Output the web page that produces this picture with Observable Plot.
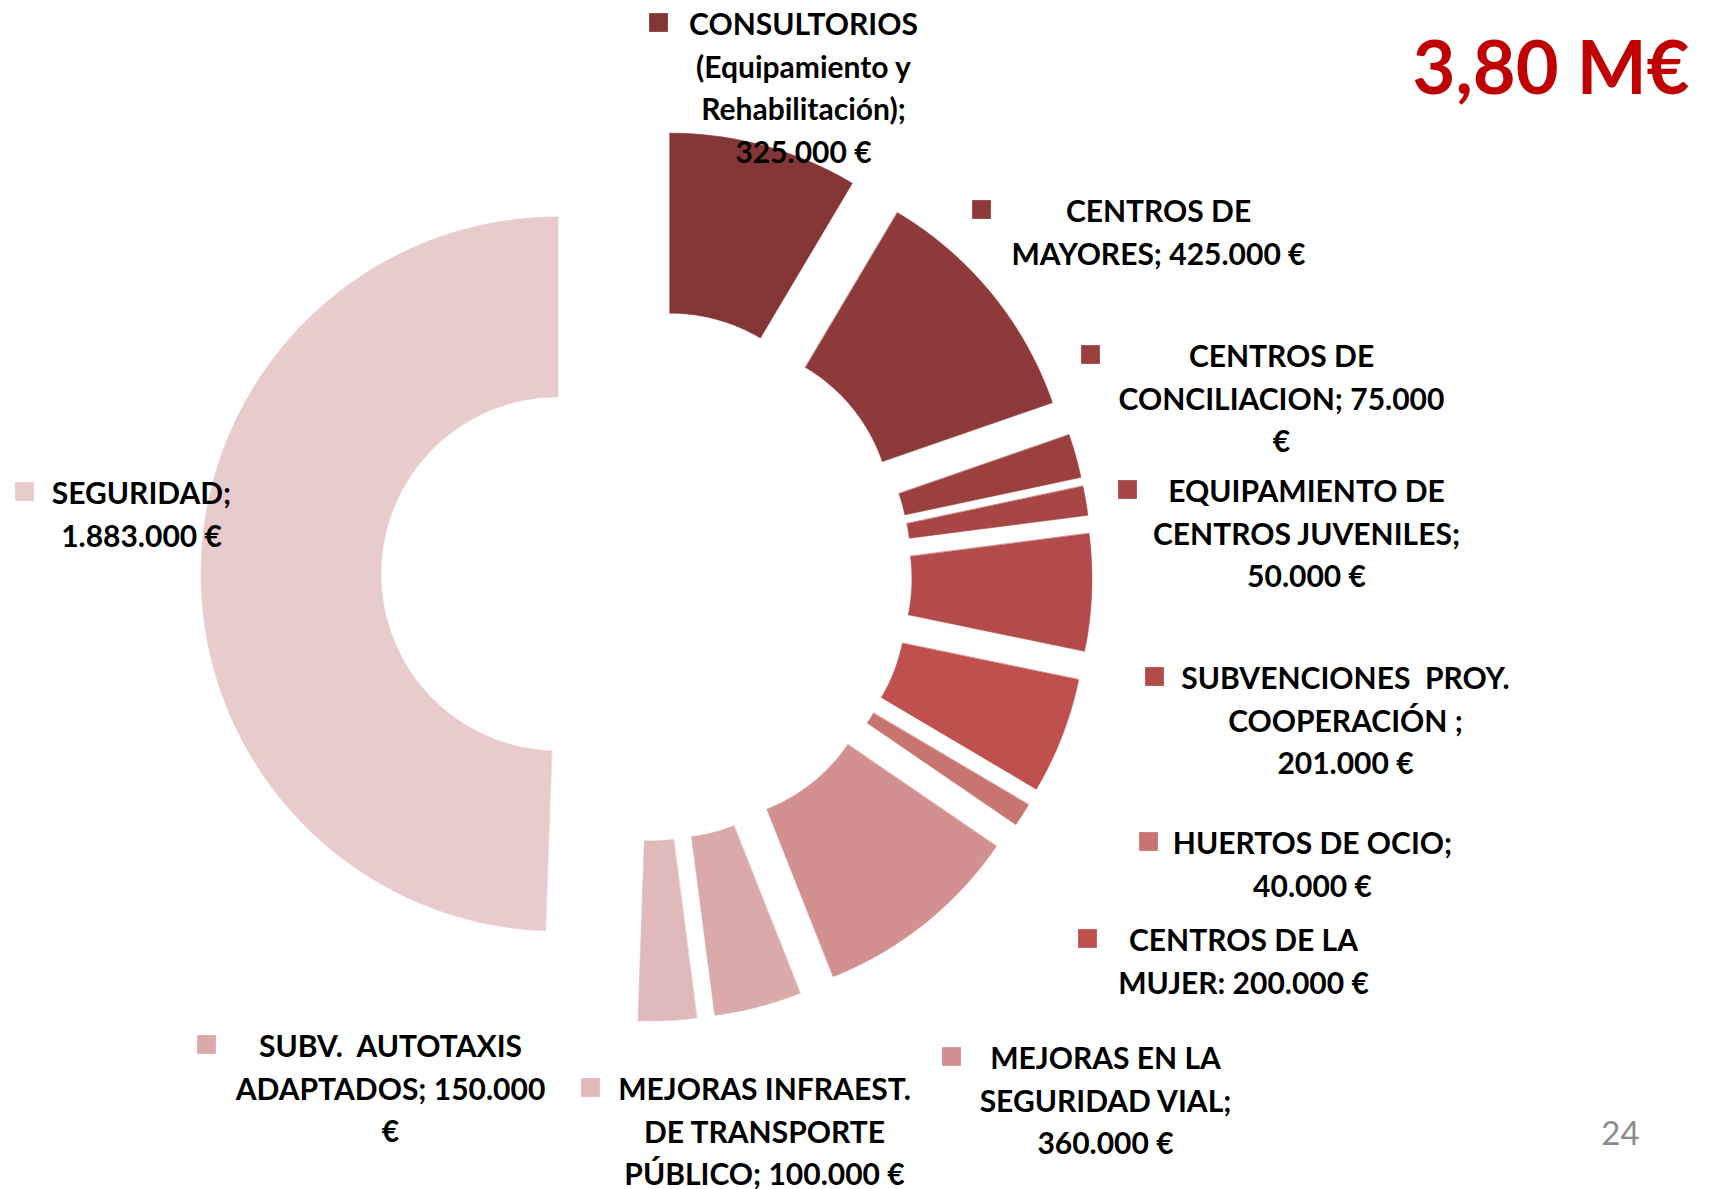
<!DOCTYPE html>
<html><head><meta charset="utf-8">
<script src="https://cdn.jsdelivr.net/npm/d3@7"></script>
<script src="https://cdn.jsdelivr.net/npm/@observablehq/plot@0.6"></script>
<style>
html,body{margin:0;padding:0;background:#fff;}
#chart svg{display:block;white-space:pre;}
</style></head><body><div id="chart"></div>
<script>
// ---- data ----
const categories = [
  "CONSULTORIOS (Equipamiento y Rehabilitación)", "CENTROS DE MAYORES", "CENTROS DE CONCILIACION",
  "EQUIPAMIENTO DE CENTROS JUVENILES", "SUBVENCIONES PROY. COOPERACIÓN", "CENTROS DE LA MUJER",
  "HUERTOS DE OCIO", "MEJORAS EN LA SEGURIDAD VIAL", "SUBV. AUTOTAXIS ADAPTADOS",
  "MEJORAS INFRAEST. DE TRANSPORTE PÚBLICO", "SEGURIDAD"
];
const values = [325000, 425000, 75000, 50000, 201000, 200000, 40000, 360000, 150000, 100000, 1883000];
const labelLines = [
  ["CONSULTORIOS", "(Equipamiento y", "Rehabilitación);", "325.000 €"],
  ["CENTROS DE", "MAYORES; 425.000 €"],
  ["CENTROS DE", "CONCILIACION; 75.000", "€"],
  ["EQUIPAMIENTO DE", "CENTROS JUVENILES;", "50.000 €"],
  ["SUBVENCIONES  PROY.", "COOPERACIÓN ;", "201.000 €"],
  ["CENTROS DE LA", "MUJER: 200.000 €"],
  ["HUERTOS DE OCIO;", "40.000 €"],
  ["MEJORAS EN LA", "SEGURIDAD VIAL;", "360.000 €"],
  ["SUBV.  AUTOTAXIS", "ADAPTADOS; 150.000", "€"],
  ["MEJORAS INFRAEST.", "DE TRANSPORTE", "PÚBLICO; 100.000 €"],
  ["SEGURIDAD;", "1.883.000 €"]
];
const totalText = "3,80 M€";
const pageText = "24";

// ---- styles / layout ----
const colors = ["#843535", "#8f3a3a", "#9b3f3f", "#a84646", "#b34b4a", "#c0504d",
                "#c87471", "#d29190", "#daa9a9", "#e0baba", "#e8cbcc"];
const W = 1714, H = 1189;
const CX = 646, CY = 575, R_OUT = 357, R_IN = 177, EXPLODE = 88.5;
const FONT = 30, LH = 1.42;
// [text centre x, first line centre y, marker centre x]
const labelLayout = [
  [803, 21, 658], [1158, 208, 981], [1281, 353, 1090], [1306, 488, 1127],
  [1345, 675, 1154], [1243, 937, 1087], [1312, 840, 1148], [1105, 1055, 951],
  [390, 1043, 206], [764, 1086, 590], [141, 490, 24]
];

// ---- build ----
const arcs = d3.pie().sort(null).value(d => d)(values);
const slices = arcs.map((a, i) => {
  const mid = (a.startAngle + a.endAngle) / 2;
  const ox = CX + EXPLODE * Math.sin(mid), oy = CY - EXPLODE * Math.cos(mid);
  const n = Math.max(6, Math.ceil((a.endAngle - a.startAngle) / 0.01));
  const pts = [];
  for (let k = 0; k <= n; k++) {
    const t = a.startAngle + (a.endAngle - a.startAngle) * k / n;
    pts.push({x: ox + R_OUT * Math.sin(t), y: oy - R_OUT * Math.cos(t)});
  }
  for (let k = n; k >= 0; k--) {
    const t = a.startAngle + (a.endAngle - a.startAngle) * k / n;
    pts.push({x: ox + R_IN * Math.sin(t), y: oy - R_IN * Math.cos(t)});
  }
  return pts;
});

const labels = labelLines.map((lines, i) => {
  const [cx, y0, mx] = labelLayout[i];
  const lhPx = FONT * LH;
  return {
    name: categories[i], text: lines.join("\n"),
    x: cx, y: y0 + (lines.length - 1) * lhPx / 2,
    mx, my: y0 + 1, color: colors[i]
  };
});

const plot = Plot.plot({
  width: W, height: H,
  margin: 0,
  x: {domain: [0, W], range: [0, W], axis: null},
  y: {domain: [0, H], range: [0, H], axis: null},
  color: {type: "identity"},
  style: {fontFamily: "Lato, sans-serif", background: "#fff"},
  marks: [
    ...slices.map((pts, i) => Plot.line(pts, {x: "x", y: "y", fill: colors[i], stroke: colors[i], strokeWidth: 0.6, curve: "linear-closed"})),
    Plot.dot(labels, {x: "mx", y: "my", symbol: "square", r: 10.6, fill: "color", stroke: null}),
    Plot.text(labels, {x: "x", y: "y", text: "text", fontSize: FONT, fontWeight: 700, lineHeight: LH, textAnchor: "middle", fill: "#000"}),
    Plot.text([totalText], {x: [1689], y: [70], text: d => d, fontSize: 74, fontWeight: 700, textAnchor: "end", fill: "#c00000"}),
    Plot.text([pageText], {x: [1620], y: [1134], text: d => d, fontSize: 33, fontWeight: 400, textAnchor: "middle", fill: "#8c8c8c"})
  ]
});
document.getElementById("chart").appendChild(plot);
</script></body></html>
